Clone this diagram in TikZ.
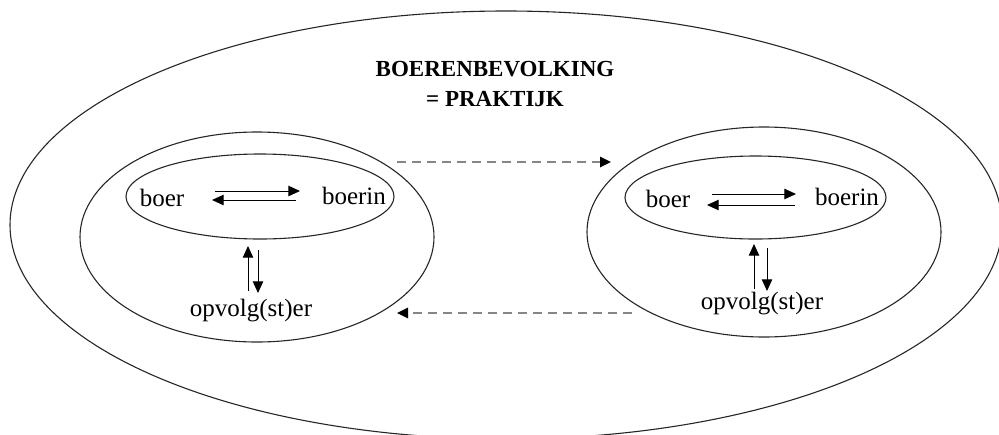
\documentclass[tikz,border=0pt]{standalone}
\usepackage{fontspec}
\setmainfont{Liberation Serif}
\usetikzlibrary{shapes.geometric,arrows.meta}
\begin{document}
\begin{tikzpicture}[x=0.5pt,y=-0.5pt,
  ring/.style={draw=black!85,ellipse,line width=0.55pt,inner sep=0pt},
  lbl/.style={inner sep=0pt,font=\fontsize{12.5}{15}\selectfont},
  arr/.style={line width=0.5pt,-{Triangle[length=5.8pt,width=5.2pt]}},
  darr/.style={draw=gray!95,line width=1pt,dash pattern=on 4.5pt off 3pt,-{Triangle[length=5.5pt,width=5.2pt,fill=black,color=black]}}]
\useasboundingbox (0,0) rectangle (999,434);
% outer ellipse
\node[ring,minimum width=496pt,minimum height=214pt] (world) at (506,225) {};
\node[align=center,inner sep=0pt,font=\bfseries\fontsize{11.5}{15}\selectfont] (title) at (495,84) {BOERENBEVOLKING\\= PRAKTIJK};
% left farm
\node[ring,minimum width=177pt,minimum height=105pt] (lfarm) at (257,237) {};
\node[ring,minimum width=134pt,minimum height=42.5pt] (lcouple) at (260,196.5) {};
\node[lbl] (lboer) at (162,198) {boer};
\node[lbl] (lboerin) at (354,196) {boerin};
\node[lbl] (lopv) at (251,311) {opvolg(st)er};
% right farm
\node[ring,minimum width=177pt,minimum height=105pt] (rfarm) at (764,232) {};
\node[ring,minimum width=130.5pt,minimum height=41.5pt] (rcouple) at (755.5,197.5) {};
\node[lbl] (rboer) at (668,199) {boer};
\node[lbl] (rboerin) at (847,197) {boerin};
\node[lbl] (ropv) at (762,304) {opvolg(st)er};
% arrow end points
\coordinate (la1) at (215,191); \coordinate (la2) at (300,191);
\coordinate (lb1) at (296,200); \coordinate (lb2) at (212,200);
\coordinate (lc1) at (248,291); \coordinate (lc2) at (248,246);
\coordinate (ld1) at (258,250); \coordinate (ld2) at (258,293);
\coordinate (ra1) at (712,194); \coordinate (ra2) at (796,194);
\coordinate (rb1) at (795,205); \coordinate (rb2) at (707,205);
\coordinate (rc1) at (754,289); \coordinate (rc2) at (754,244);
\coordinate (rd1) at (767,248); \coordinate (rd2) at (767,291);
\coordinate (top1) at (397,162); \coordinate (top2) at (611,162);
\coordinate (bot1) at (632,313); \coordinate (bot2) at (397,313);
\draw[arr] (la1) -- (la2);
\draw[arr] (lb1) -- (lb2);
\draw[arr] (lc1) -- (lc2);
\draw[arr] (ld1) -- (ld2);
\draw[arr] (ra1) -- (ra2);
\draw[arr] (rb1) -- (rb2);
\draw[arr] (rc1) -- (rc2);
\draw[arr] (rd1) -- (rd2);
\draw[darr] (top1) -- (top2);
\draw[darr] (bot1) -- (bot2);
\end{tikzpicture}
\end{document}
